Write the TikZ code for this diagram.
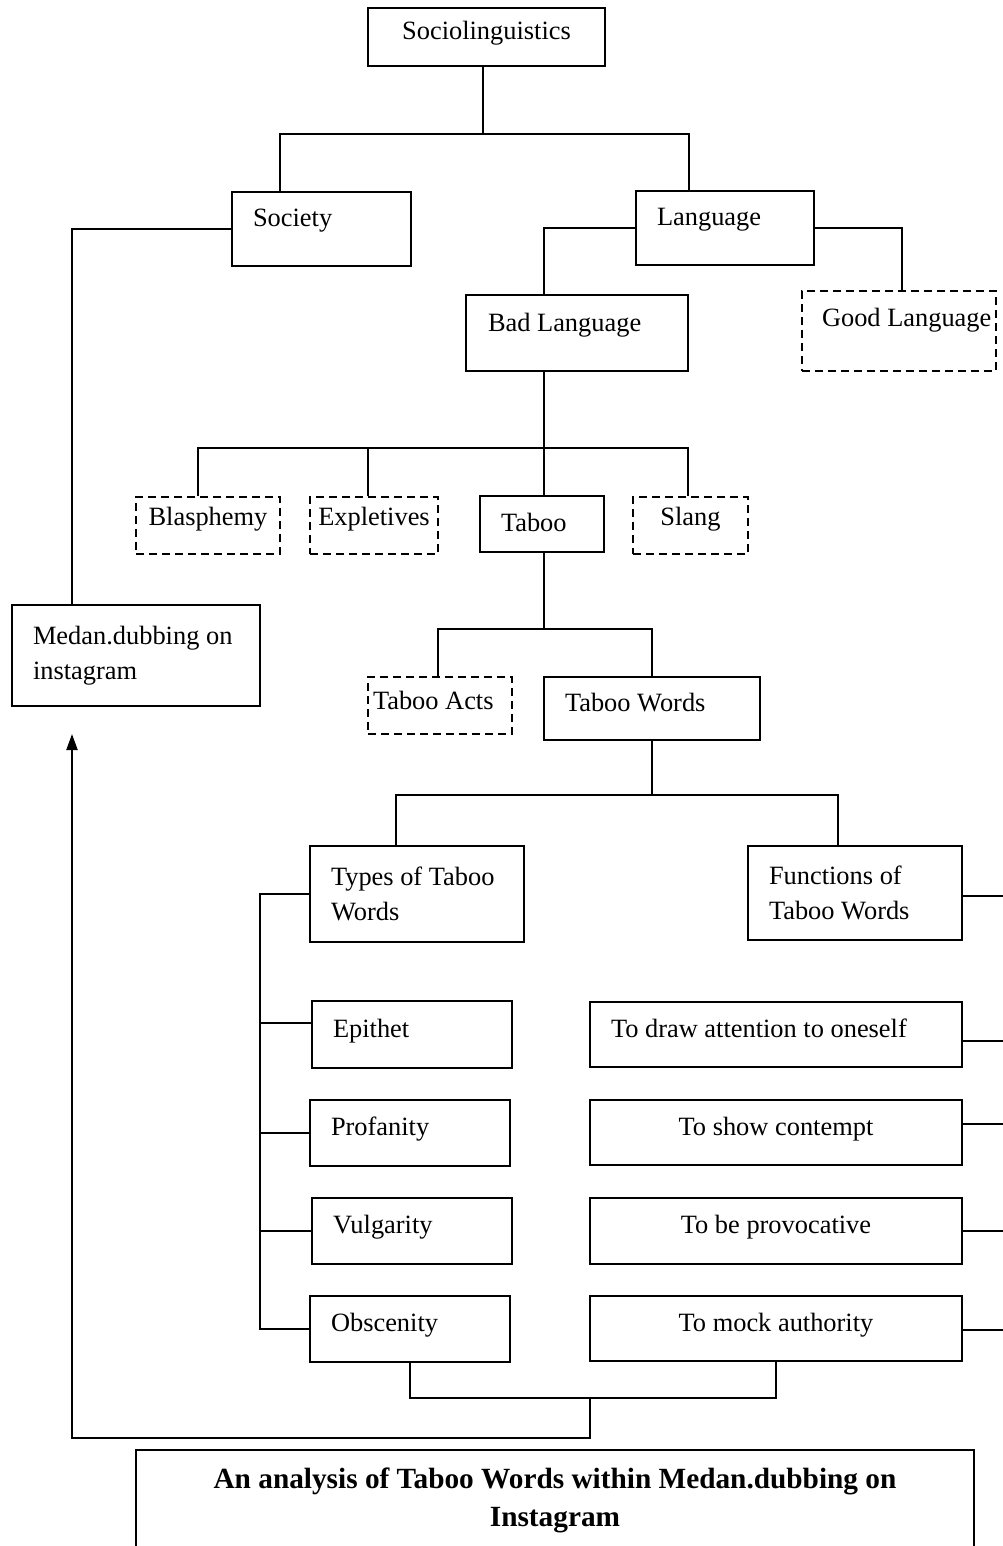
\documentclass[tikz,border=0pt]{standalone}
\usepackage{fontspec}
\setmainfont{Liberation Serif}
\usetikzlibrary{arrows.meta}

\begin{document}
\begin{tikzpicture}[x=1pt,y=-1pt]
\tikzstyle{every node}+=[inner sep=0pt, font=\fontsize{26.4}{35}\selectfont]
\tikzstyle{box}=[draw=black, line width=2pt, rectangle, text height=20pt, text depth=15pt]
\tikzstyle{dbox}=[box, dash pattern=on 8pt off 5pt]
\tikzstyle{two}=[draw=black, line width=2pt, rectangle, align=flush left]
\tikzstyle{wire}=[draw=black, line width=2pt]
\useasboundingbox (0,0) rectangle (1003,1546);
\node[box, minimum width=237pt, minimum height=58pt, align=center] (socio) at (486.5,37) {Sociolinguistics};
\node[box, minimum width=179pt, minimum height=74pt, text width=137pt, align=flush left, text depth=24pt] (society) at (321.5,229) {Society};
\node[box, minimum width=178pt, minimum height=74pt, text width=136pt, align=flush left, text depth=24pt] (language) at (725,228) {Language};
\node[box, minimum width=222pt, minimum height=76pt, text width=178pt, align=flush left, text depth=24pt] (bad) at (577,333) {Bad Language};
\node[dbox, minimum width=194pt, minimum height=80pt, text width=154pt, align=flush left, text depth=30pt] (good) at (899,331) {\mbox{Good Language}};
\node[dbox, minimum width=144pt, minimum height=57pt, align=center, text depth=21pt] (blas) at (208,525.5) {Blasphemy};
\node[dbox, minimum width=128pt, minimum height=57pt, align=center, text depth=21pt] (expl) at (374,525.5) {Expletives};
\node[box, minimum width=124pt, minimum height=56pt, text width=82pt, align=flush left, text depth=6pt] (taboo) at (542,524) {Taboo};
\node[dbox, minimum width=115pt, minimum height=57pt, align=center, text depth=21pt] (slang) at (690.5,525.5) {Slang};
\node[two, minimum width=248pt, minimum height=101pt, text width=206pt] (medan) at (136,655.5) {Medan.dubbing on\\instagram};
\node[dbox, minimum width=144pt, minimum height=57pt, text width=134pt, align=flush left, text depth=12pt] (acts) at (440,705.5) {Taboo Acts};
\node[box, minimum width=216pt, minimum height=63pt, text width=174pt, align=flush left] (words) at (652,708.5) {Taboo Words};
\node[two, minimum width=214pt, minimum height=96pt, text width=172pt] (types) at (417,894) {Types of Taboo\\Words};
\node[two, minimum width=214pt, minimum height=94pt, text width=172pt] (funcs) at (855,893) {Functions of\\Taboo Words};
\node[box, minimum width=200pt, minimum height=67pt, text width=158pt, align=flush left] (epithet) at (412,1034.5) {Epithet};
\node[box, minimum width=200pt, minimum height=66pt, text width=158pt, align=flush left] (profanity) at (410,1133) {Profanity};
\node[box, minimum width=200pt, minimum height=66pt, text width=158pt, align=flush left] (vulgarity) at (412,1231) {Vulgarity};
\node[box, minimum width=200pt, minimum height=66pt, text width=158pt, align=flush left] (obsc) at (410,1328.5) {Obscenity};
\node[box, minimum width=372pt, minimum height=65pt, text width=330pt, align=flush left] (attn) at (776,1034.5) {To draw attention to oneself};
\node[box, minimum width=372pt, minimum height=65pt, align=center] (contempt) at (776,1132.5) {To show contempt};
\node[box, minimum width=372pt, minimum height=66pt, align=center] (provoc) at (776,1231) {To be provocative};
\node[box, minimum width=372pt, minimum height=65pt, align=center] (mock) at (776,1328.5) {To mock authority};
\node[two, align=center, minimum width=838pt, minimum height=101pt, font=\fontsize{29.3}{38}\selectfont\bfseries] (title) at (555,1500.5) {An analysis of Taboo Words within Medan.dubbing on\\Instagram};
\coordinate (j1) at (483,134);
\coordinate (j2) at (544,448);
\coordinate (j3) at (544,629);
\coordinate (j4) at (652,795);
\coordinate (j5) at (590,1398);
\coordinate (j6) at (590,1438);
\coordinate (tip) at (72,734);
\coordinate (edge) at (1003,0);
\draw[wire] (socio.south -| j1) -- (j1);
\draw[wire] (society.north -| 280,0) |- (j1) -| (language.north -| 689,0);
\draw[wire] (society.west) -| (medan.north -| tip);
\draw[wire] (language.west) -| (bad.north -| j2);
\draw[wire] (language.east) -| (good.north -| 902,0);
\draw[wire] (bad.south -| j2) -- (taboo.north -| j2);
\draw[wire] (blas.north -| 198,0) |- (j2) -| (slang.north -| 688,0);
\draw[wire] (expl.north -| 368,0) |- (j2);
\draw[wire] (taboo.south -| j3) -- (j3);
\draw[wire] (acts.north -| 438,0) |- (j3) -| (words.north);
\draw[wire] (words.south) -- (j4);
\draw[wire] (types.north -| 396,0) |- (j4) -| (funcs.north -| 838,0);
\draw[wire] (types.west) -| (obsc.west -| 260,0) -- (obsc.west);
\draw[wire] ([yshift=11.5pt]epithet.west) -- ([yshift=11.5pt]epithet.west -| 260,0);
\foreach \n in {profanity,vulgarity}
  \draw[wire] (\n.west) -- (\n.west -| 260,0);
\foreach \n/\s in {funcs/-3pt,attn/-6.5pt,contempt/8.5pt,provoc/0pt,mock/-1.5pt}
  \draw[wire] ([yshift=\s]\n.east) -- ([yshift=\s]\n.east -| edge);
\draw[wire] (obsc.south) |- (j5) -| (mock.south);
\draw[wire, -{Triangle[length=16pt, width=11pt]}] (j5) -- (j6) -| (tip);
\end{tikzpicture}
\end{document}
